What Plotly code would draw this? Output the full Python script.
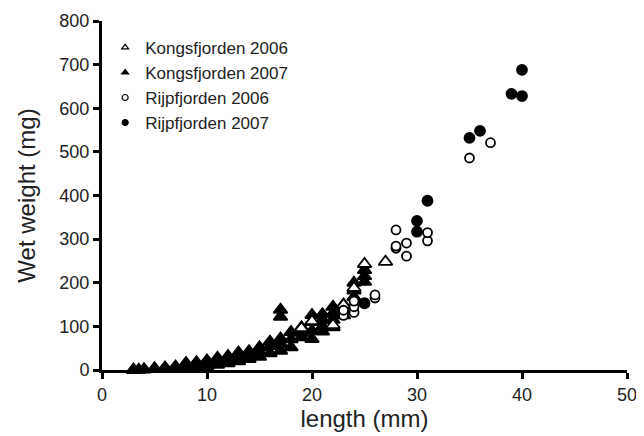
import plotly.graph_objects as go

# Kongsfjorden 2006 (open triangles)
kong2006_len = [19, 20, 22, 23, 24, 25, 27]
kong2006_wt = [96, 112, 103, 149, 188, 243, 248]

# Kongsfjorden 2007 (filled triangles)
kong2007_len = [3, 3, 3.5, 4, 4, 5, 5, 6, 6, 7, 7, 8, 8, 8, 9, 9, 9, 10, 10, 10,
                11, 11, 11, 12, 12, 12, 13, 13, 13, 14, 14, 14, 15, 15, 15,
                16, 16, 16, 17, 17, 17, 17, 17, 18, 18, 18, 19, 19, 19,
                20, 20, 20, 20, 21, 21, 21, 21, 22, 22, 22, 22, 23, 23, 23,
                24, 24, 24, 25, 25, 25]
kong2007_wt = [0, 1, 0.5, 1, 2, 2, 4, 3, 6, 4, 8, 5, 10, 16, 7, 12, 18, 9, 15, 22,
               12, 20, 28, 15, 24, 32, 20, 30, 40, 25, 35, 43, 30, 42, 52,
               38, 55, 65, 44, 60, 72, 122, 138, 52, 70, 87, 75, 85, 98,
               71, 90, 110, 126, 88, 100, 115, 128, 98, 115, 130, 145, 125, 138, 150,
               167, 182, 200, 202, 215, 229]

# Rijpfjorden 2006 (open circles)
rijp2006_len = [23, 23, 24, 24, 24, 26, 26, 28, 28, 28, 29, 29, 31, 31, 35, 37]
rijp2006_wt = [125, 137, 132, 145, 158, 165, 172, 279, 284, 321, 261, 291, 296, 315, 486, 521]

# Rijpfjorden 2007 (filled circles)
rijp2007_len = [25, 30, 30, 31, 35, 36, 39, 40, 40]
rijp2007_wt = [153, 317, 342, 388, 532, 548, 633, 628, 688]

names = ["Kongsfjorden 2006", "Kongsfjorden 2007", "Rijpfjorden 2006", "Rijpfjorden 2007"]
FONT = "Arial, Liberation Sans, Helvetica, sans-serif"

fig = go.Figure()

def add(xs, ys, symbol, fill, size):
    fig.add_trace(go.Scatter(
        x=xs, y=ys, mode="markers", showlegend=False, cliponaxis=False,
        marker=dict(symbol=symbol, size=size, color=fill,
                    line=dict(color="black", width=1.8)),
    ))

add(kong2007_len, kong2007_wt, "triangle-up", "black", 12)
add(kong2006_len, kong2006_wt, "triangle-up", "white", 12)
add(rijp2006_len, rijp2006_wt, "circle", "white", 9)
add(rijp2007_len, rijp2007_wt, "circle", "black", 10)

# legend entries
leg = [("triangle-up", "white"), ("triangle-up", "black"), ("circle", "white"), ("circle", "black")]
for (sym, fill), nm in zip(leg, names):
    fig.add_trace(go.Scatter(
        x=[None], y=[None], mode="markers", name=nm,
        marker=dict(symbol=sym, size=6, color=fill, line=dict(color="black", width=1.2)),
    ))

axis_common = dict(
    showline=True, linecolor="black", linewidth=3,
    ticks="outside", ticklen=6, tickwidth=3, tickcolor="black",
    showgrid=False, zeroline=False, automargin=False,
    tickfont=dict(family=FONT, size=18, color="#222"),
)

fig.update_layout(
    width=636, height=428,
    margin=dict(l=94, r=17, t=13, b=66),
    paper_bgcolor="white", plot_bgcolor="white",
    font=dict(family=FONT, color="#222"),
    xaxis=dict(range=[0, 50], tickvals=[0, 10, 20, 30, 40, 50],
               title=dict(text="length (mm)", font=dict(family=FONT, size=24, color="#222"), standoff=4),
               **axis_common),
    yaxis=dict(range=[0, 800], tickvals=[0, 100, 200, 300, 400, 500, 600, 700, 800],
               title=dict(text="Wet weight (mg)", font=dict(family=FONT, size=24, color="#222"), standoff=17),
               **axis_common),
    legend=dict(x=0.006, y=0.975, xanchor="left", yanchor="top",
                font=dict(family=FONT, size=17, color="#222"),
                itemwidth=30, tracegroupgap=0, bgcolor="rgba(0,0,0,0)"),
)

fig.write_html("out.html")
